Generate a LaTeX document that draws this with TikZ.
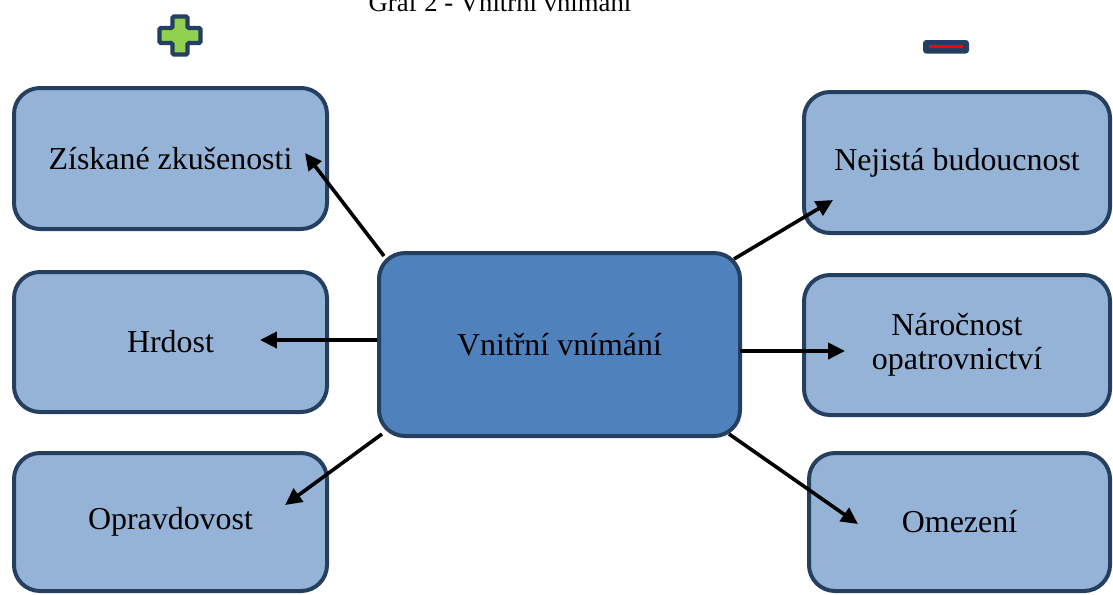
\documentclass[tikz,border=0pt]{standalone}
\usepackage{fontspec}
\setmainfont{Liberation Serif}
\usepackage{tikz}
\usetikzlibrary{arrows.meta}

\definecolor{boxline}{HTML}{243F60}
\definecolor{boxfill}{HTML}{95B3D7}
\definecolor{midfill}{HTML}{4F81BD}
\definecolor{plusgreen}{HTML}{92D050}

\begin{document}
\begin{tikzpicture}[x=0.25mm, y=-0.25mm,
    sbox/.style={draw=boxline, fill=boxfill, line width=1mm,
      rounded corners=6.5mm, align=center,
      font=\fontsize{22.7pt}{24pt}\selectfont},
    mbox/.style={sbox, fill=midfill},
    arr/.style={line width=0.9mm,
      -{Triangle[length=4.2mm, width=4mm]}}]
    \path [use as bounding box]
      (0, 0) rectangle (1113, 594);

    \newcommand{\abox}[6]{
      \node[sbox,
        minimum width=#4 * 0.25mm,
        minimum height=#5 * 0.25mm] (#1) at (#2, #3) {#6};
    }

    \node[anchor=base, font=\fontsize{19pt}{22pt}\selectfont] (title)
      at (500, 11) {Graf 2 - Vnitřní vnímání};

    % plus and minus
    \draw[draw=boxline, fill=plusgreen, line width=1.1mm, rounded corners=0.4mm]
      (172.5, 16.5) -- (187.5, 16.5) -- (187.5, 28) -- (200.5, 28) -- (200.5, 43)
      -- (187.5, 43) -- (187.5, 54.5) -- (172.5, 54.5) -- (172.5, 43) -- (159.5, 43)
      -- (159.5, 28) -- (172.5, 28) -- cycle;
    \fill[boxline, rounded corners=0.8mm] (923, 40) rectangle (969, 53.5);
    \draw[red, line width=0.6mm] (929, 46.5) -- (963, 46.5);

    \abox{zisk}{170.5}{158.5}{313}{141}{Získané zkušenosti}
    \abox{hrd}{170.5}{342}{313}{140}{Hrdost}
    \abox{oprav}{170.5}{522}{313}{138}{Opravdovost}
    \abox{nejist}{957}{162.5}{306}{141}{Nejistá budoucnost}
    \abox{naroc}{957}{345}{306}{140}{Náročnost\\opatrovnictví}
    \abox{omez}{959.5}{522}{301}{138}{Omezení}

    \node[mbox, minimum width=361 * 0.25mm, minimum height=183 * 0.25mm]
      (vnitr) at (559.5, 344.5) {Vnitřní vnímání};

    \coordinate (zisk-tip) at (305, 153);
    \coordinate (hrd-tip) at (260, 340);
    \coordinate (oprav-tip) at (285, 505);
    \coordinate (nejist-tip) at (833, 200);
    \coordinate (naroc-tip) at (845, 351);
    \coordinate (omez-tip) at (858, 524);

    \draw[arr] (vnitr.north west) ++(7, 5) -- (zisk-tip);
    \draw[arr] (vnitr.west |- hrd-tip) -- (hrd-tip);
    \draw[arr] (vnitr.south west) ++(5, -4) -- (oprav-tip);
    \draw[arr] (vnitr.north east) ++(-8, 8) -- (nejist-tip);
    \draw[arr] (vnitr.east |- naroc-tip) ++(-2, 0) -- (naroc-tip);
    \draw[arr] (vnitr.south east) ++(-13, -4) -- (omez-tip);

  \end{tikzpicture}
\end{document}
